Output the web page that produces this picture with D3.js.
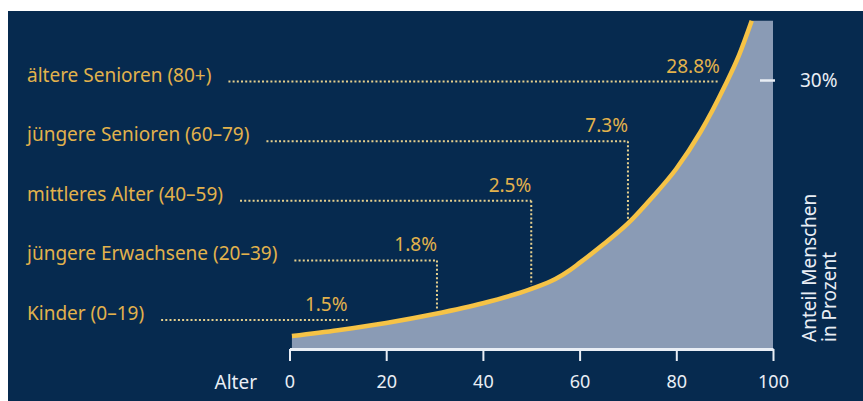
<!DOCTYPE html>
<html>
<head>
<meta charset="utf-8">
<script src="https://cdn.jsdelivr.net/npm/d3@7"></script>
<style>
  body { margin: 0; background: #fff; }
  svg { display: block; }
  text { font-family: 'Noto Sans', sans-serif; }
</style>
</head>
<body>
<div id="chart"></div>
<script>
// curve: share of people (%) by age
const ages = [0.5, 10, 20, 30, 40, 50, 55, 58, 60, 65, 70, 75, 80, 85, 90, 93, 95.6];
const shares = [1.45, 2.1, 2.9, 3.9, 5.1, 6.7, 7.8, 8.8, 9.6, 11.7, 14.0, 16.9, 20.1, 24.2, 29.3, 32.8, 36.6];

// age groups with their shares and the age the pointer goes to
const groups = ['Kinder (0–19)', 'jüngere Erwachsene (20–39)', 'mittleres Alter (40–59)',
  'jüngere Senioren (60–79)', 'ältere Senioren (80+)'];
const groupShares = [1.5, 1.8, 2.5, 7.3, 28.8];
const pointerAges = [12, 30.5, 50, 70, 89];
const dropToCurve = [false, true, true, true, false];

const xTicks = [0, 20, 40, 60, 80, 100];
const yTicks = [30];

const width = 863;
const height = 401;
const fontSize = 19;
const colours = {
  bg: '#062a4f',
  area: '#8a9bb5',
  line: '#f6c346',
  label: '#e2b24c',
  dots: '#e6d08e',
  axis: '#e9eef5',
};

const svg = d3.select('#chart').append('svg')
  .attr('width', width)
  .attr('height', height);

// navy panel, white strip left and top
svg.append('rect')
  .attr('x', 8)
  .attr('y', 11)
  .attr('width', width - 8)
  .attr('height', height - 11)
  .attr('fill', colours.bg);

const x = d3.scaleLinear().domain([0, 100]).range([289.5, 773]);
const y = d3.scaleLinear().domain([0, 30]).range([349, 80]);

const curve = ages.map((a, i) => ({ age: a, share: shares[i] }));
const curveAt = (a) => {
  const i = d3.bisectRight(ages, a);
  const p0 = curve[Math.max(0, i - 1)];
  const p1 = curve[Math.min(curve.length - 1, i)];
  const t = p1.age === p0.age ? 0 : (a - p0.age) / (p1.age - p0.age);
  return p0.share + t * (p1.share - p0.share);
};

const line = d3.line()
  .x((d) => x(d.age))
  .y((d) => y(d.share))
  .curve(d3.curveMonotoneX);

// area under the curve, closed along the top edge and the axis
const last = curve[curve.length - 1];
svg.append('path')
  .attr('d', `${line(curve)}L${x(100)},${y(last.share)}L${x(100)},${y(0)}L${x(curve[0].age)},${y(0)}Z`)
  .attr('fill', colours.area);

svg.append('path')
  .attr('d', line(curve))
  .attr('fill', 'none')
  .attr('stroke', colours.line)
  .attr('stroke-width', 4.5);

// x axis
const xAxis = svg.append('g')
  .attr('transform', `translate(0, ${y(0)})`)
  .call(d3.axisBottom(x).tickValues(xTicks).tickSize(12).tickPadding(14).tickSizeOuter(0));
xAxis.select('.domain').attr('stroke', colours.axis).attr('stroke-width', 3);
xAxis.selectAll('.tick line').attr('stroke', colours.axis).attr('stroke-width', 2);
xAxis.selectAll('.tick text')
  .attr('fill', colours.axis)
  .attr('font-size', 18)
  .style('font-family', "'Noto Sans', sans-serif");

svg.append('text')
  .attr('x', 257)
  .attr('y', 389)
  .attr('text-anchor', 'end')
  .attr('fill', colours.axis)
  .attr('font-size', fontSize)
  .text('Alter');

// y tick at the right edge
const yAxis = svg.append('g')
  .attr('transform', `translate(${x(100) + 2}, 0)`)
  .call(d3.axisLeft(y).tickValues(yTicks).tickSize(15).tickFormat(() => ''));
yAxis.select('.domain').remove();
yAxis.selectAll('.tick line').attr('stroke', colours.axis).attr('stroke-width', 2.5);

svg.selectAll('.y-label')
  .data(yTicks)
  .join('text')
  .attr('class', 'y-label')
  .attr('x', 800)
  .attr('y', (d) => y(d) + 7)
  .attr('fill', colours.axis)
  .attr('font-size', fontSize)
  .text((d) => `${d}%`);

const yTitle = svg.append('text')
  .attr('transform', 'translate(816, 342) rotate(-90)')
  .attr('fill', colours.axis)
  .attr('font-size', fontSize);
yTitle.append('tspan').attr('x', 0).attr('dy', 0).text('Anteil Menschen');
yTitle.append('tspan').attr('x', 0).attr('dy', 20).text('in Prozent');

// age group rows
const row = d3.scalePoint().domain(groups).range([320, 81.5]);
const fmt = d3.format('.1f');

groups.forEach((g, i) => {
  const ry = row(g);
  const label = svg.append('text')
    .attr('x', 27)
    .attr('y', ry)
    .attr('fill', colours.label)
    .attr('font-size', fontSize)
    .text(g);
  const startX = 27 + label.node().getComputedTextLength() + 17;
  const endX = x(pointerAges[i]);

  svg.append('line')
    .attr('x1', startX)
    .attr('x2', endX)
    .attr('y1', ry)
    .attr('y2', ry)
    .attr('stroke', colours.dots)
    .attr('stroke-width', 2)
    .attr('stroke-dasharray', '2 2.2');

  if (dropToCurve[i]) {
    svg.append('line')
      .attr('x1', endX)
      .attr('x2', endX)
      .attr('y1', ry)
      .attr('y2', y(curveAt(pointerAges[i])) - 4)
      .attr('stroke', colours.dots)
      .attr('stroke-width', 2)
      .attr('stroke-dasharray', '2 2.2');
  }

  svg.append('text')
    .attr('x', endX)
    .attr('y', ry - 9)
    .attr('text-anchor', 'end')
    .attr('fill', colours.label)
    .attr('font-size', fontSize)
    .text(`${fmt(groupShares[i])}%`);
});
</script>
</body>
</html>
